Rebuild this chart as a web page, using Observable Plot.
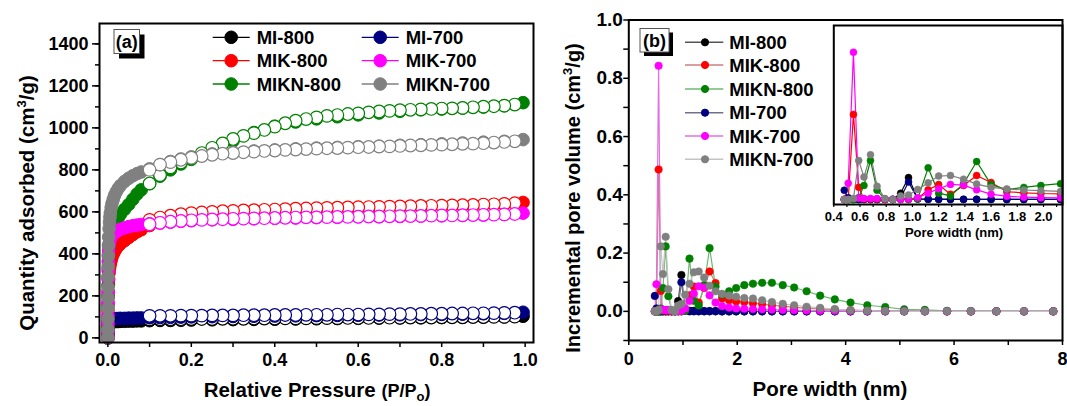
<!DOCTYPE html>
<html>
<head>
<meta charset="utf-8">
<script src="https://cdn.jsdelivr.net/npm/d3@7"></script>
<script src="https://cdn.jsdelivr.net/npm/@observablehq/plot@0.6"></script>
<style>
  body { margin: 0; background: #fff; }
  #fig { position: relative; width: 1067px; height: 406px; overflow: hidden;
         font-family: "Liberation Sans", Arial, sans-serif; font-weight: bold; }
  #fig > svg { position: absolute; }
</style>
</head>
<body>
<div id="fig"></div>
<script>
// ---------- samples ----------
const seriesNames  = ["MI-800", "MIK-800", "MIKN-800", "MI-700", "MIK-700", "MIKN-700"];
const seriesColors = ["#000000", "#ff0000", "#008000", "#000080", "#ff00ff", "#808080"];
// lighter strokes used for the pore-size connecting lines
const psdLineColors = ["#555555", "#c98080", "#6fb86f", "#70708c", "#e070e0", "#c4c4c4"];

// ---------- (a) N2 isotherms ----------
// adsorption branch relative pressures
const adsP = [0.00001, 0.00003, 0.00006, 0.0001, 0.0002, 0.0003, 0.0005, 0.0007, 0.001, 0.0015,
              0.002, 0.003, 0.004, 0.005, 0.006, 0.008, 0.01, 0.013, 0.016, 0.02,
              0.025, 0.03, 0.04, 0.05, 0.06, 0.07, 0.08, 0.1, 0.125, 0.15,
              0.175, 0.2, 0.25, 0.3, 0.35, 0.4, 0.45, 0.5, 0.55, 0.6,
              0.65, 0.7, 0.75, 0.8, 0.85, 0.9, 0.95, 0.995];
// desorption branch relative pressures
const desP = [0.975, 0.95, 0.925, 0.9, 0.875, 0.85, 0.825, 0.8, 0.775, 0.75,
              0.725, 0.7, 0.675, 0.65, 0.625, 0.6, 0.575, 0.55, 0.525, 0.5,
              0.475, 0.45, 0.425, 0.4, 0.375, 0.35, 0.325, 0.3, 0.275, 0.25,
              0.225, 0.2, 0.175, 0.15, 0.125, 0.1];

const adsMI800 = [0, 10, 20, 30, 45, 55, 62, 67, 70, 72,
                  73, 74, 75, 75, 76, 76, 77, 77, 78, 78,
                  78, 79, 79, 80, 80, 81, 81, 82, 83, 83,
                  84, 85, 86, 87, 88, 89, 90, 91, 92, 93,
                  94, 95, 96, 97, 98, 99, 100, 103];
const desMI800 = [101, 100, 100, 99, 99, 98, 98, 98, 97, 97,
                  97, 96, 96, 96, 95, 95, 95, 94, 94, 94,
                  93, 93, 93, 92, 92, 92, 91, 91, 91, 90,
                  90, 90, 89, 89, 89, 88];

const adsMIK800 = [0, 15, 35, 60, 100, 130, 165, 195, 220, 255,
                   280, 310, 330, 345, 355, 370, 385, 400, 412, 425,
                   438, 448, 463, 478, 492, 505, 515, 535, 553, 566,
                   576, 584, 593, 599, 604, 608, 611, 614, 617, 620,
                   622, 624, 626, 628, 630, 633, 636, 645];
const desMIK800 = [641, 638, 636, 635, 633, 632, 631, 630, 629, 628,
                   627, 626, 625, 624, 623, 622, 621, 620, 619, 618,
                   616, 615, 613, 611, 610, 608, 607, 605, 603, 600,
                   597, 594, 589, 582, 573, 562];

const adsMIKN800 = [0, 20, 50, 90, 150, 200, 250, 290, 330, 370,
                    400, 430, 450, 465, 478, 495, 508, 525, 540, 555,
                    572, 588, 612, 635, 660, 685, 705, 735, 770, 800,
                    828, 850, 893, 938, 978, 1008, 1028, 1043, 1053, 1062,
                    1071, 1079, 1086, 1090, 1094, 1099, 1105, 1120];
const desMIKN800 = [1111, 1106, 1103, 1101, 1098, 1095, 1093, 1092, 1090, 1088,
                    1086, 1084, 1081, 1078, 1074, 1069, 1066, 1061, 1057, 1050,
                    1042, 1034, 1022, 1006, 990, 975, 962, 947, 926, 905,
                    880, 856, 835, 812, 775, 735];

const adsMI700 = [0, 15, 30, 45, 60, 70, 76, 80, 83, 85,
                  86, 87, 88, 89, 89, 90, 90, 91, 91, 92,
                  92, 93, 93, 94, 94, 95, 95, 96, 97, 98,
                  99, 100, 101, 102, 103, 104, 105, 106, 107, 108,
                  109, 110, 111, 112, 113, 115, 117, 122];
const desMI700 = [120, 119, 118, 117, 117, 116, 116, 115, 115, 114,
                  114, 113, 113, 112, 112, 111, 111, 111, 110, 110,
                  110, 109, 109, 109, 108, 108, 108, 107, 107, 107,
                  106, 106, 106, 105, 105, 105];

const adsMIK700 = [0, 30, 70, 110, 170, 220, 280, 320, 360, 395,
                   415, 440, 455, 465, 472, 480, 487, 495, 500, 506,
                   512, 517, 524, 530, 534, 537, 540, 543, 547, 551,
                   555, 558, 562, 565, 567, 569, 571, 573, 574, 576,
                   577, 578, 580, 581, 583, 585, 588, 594];
const desMIK700 = [590, 588, 587, 586, 585, 584, 583, 583, 582, 581,
                   580, 580, 579, 578, 578, 577, 576, 576, 575, 574,
                   574, 573, 572, 571, 570, 569, 568, 567, 565, 564,
                   562, 560, 557, 553, 548, 541];

const adsMIKN700 = [0, 40, 90, 140, 190, 240, 290, 340, 390, 440,
                    480, 520, 550, 575, 595, 620, 640, 660, 678, 695,
                    712, 725, 745, 760, 772, 782, 790, 805, 825, 840,
                    852, 862, 876, 884, 890, 895, 900, 904, 907, 910,
                    913, 917, 920, 924, 928, 932, 936, 944];
const desMIKN700 = [936, 933, 930, 927, 925, 924, 922, 920, 919, 917,
                    916, 914, 912, 911, 909, 908, 906, 904, 903, 901,
                    899, 897, 895, 892, 890, 887, 884, 880, 877, 872,
                    866, 858, 848, 837, 825, 800];

const adsorption = [adsMI800, adsMIK800, adsMIKN800, adsMI700, adsMIK700, adsMIKN700];
const desorption = [desMI800, desMIK800, desMIKN800, desMI700, desMIK700, desMIKN700];

// ---------- (b) DFT pore size distribution ----------
const poreWidth = [0.48, 0.51, 0.55, 0.59, 0.63, 0.68, 0.73, 0.79, 0.85, 0.91,
                   0.97, 1.04, 1.12, 1.20, 1.29, 1.39, 1.49, 1.60, 1.72, 1.85,
                   1.98, 2.13, 2.29, 2.46, 2.64, 2.84, 3.05, 3.28, 3.53, 3.80,
                   4.09, 4.40, 4.73, 5.08, 5.46, 5.87, 6.31, 6.78, 7.29, 7.83];

const psdMI800 = [0, 0, 0, 0, 0, 0, 0, 0, 0, 0.035,
                  0.125, 0.004, 0.002, 0.002, 0.001, 0.001, 0.001, 0.001, 0, 0,
                  0, 0, 0, 0, 0, 0, 0, 0, 0, 0,
                  0, 0, 0, 0, 0, 0, 0, 0, 0, 0];
const psdMIK800 = [0, 0, 0.487, 0.07, 0.003, 0.002, 0.002, 0, 0, 0,
                   0, 0.005, 0.055, 0.085, 0.03, 0.08, 0.137, 0.097, 0.044, 0.038,
                   0.034, 0.032, 0.028, 0.025, 0.021, 0.018, 0.014, 0.011, 0.008, 0.006,
                   0.004, 0.003, 0.002, 0.001, 0.001, 0, 0, 0, 0, 0];
const psdMIKN800 = [0, 0, 0, 0.01, 0.08, 0.223, 0.052, 0.002, 0, 0,
                    0, 0.003, 0.181, 0.036, 0.02, 0.09, 0.217, 0.085, 0.057, 0.069,
                    0.08, 0.09, 0.095, 0.098, 0.098, 0.09, 0.082, 0.069, 0.054, 0.041,
                    0.03, 0.021, 0.015, 0.007, 0.005, 0.002, 0.001, 0, 0, 0];
const psdMI700 = [0.053, 0.01, 0, 0, 0, 0, 0, 0, 0, 0.01,
                  0.1, 0.002, 0, 0, 0, 0, 0, 0, 0, 0,
                  0, 0, 0, 0, 0, 0, 0, 0, 0, 0,
                  0, 0, 0, 0, 0, 0, 0, 0, 0, 0];
const psdMIK700 = [0, 0.093, 0.843, 0.007, 0.005, 0.005, 0.005, 0.002, 0.001, 0,
                   0.002, 0.01, 0.036, 0.061, 0.086, 0.082, 0.055, 0.03, 0.018, 0.013,
                   0.01, 0.009, 0.008, 0.007, 0.006, 0.005, 0.004, 0.003, 0.002, 0.002,
                   0.001, 0.001, 0.001, 0.001, 0, 0, 0, 0, 0, 0];
const psdMIKN700 = [0, 0, 0.005, 0.223, 0.128, 0.256, 0.076, 0.005, 0, 0.02,
                    0.025, 0.057, 0.095, 0.134, 0.137, 0.116, 0.088, 0.069, 0.06, 0.054,
                    0.05, 0.046, 0.044, 0.038, 0.032, 0.026, 0.021, 0.016, 0.012, 0.008,
                    0.004, 0.002, 0.001, 0, 0, 0, 0, 0, 0, 0];
const psd = [psdMI800, psdMIK800, psdMIKN800, psdMI700, psdMIK700, psdMIKN700];

// ---------- ticks ----------
const aXTicks = [0, 0.1, 0.2, 0.3, 0.4, 0.5, 0.6, 0.7, 0.8, 0.9, 1.0];
const aXLabels = [0, 0.2, 0.4, 0.6, 0.8, 1.0];
const aYTicks = [0, 100, 200, 300, 400, 500, 600, 700, 800, 900, 1000, 1100, 1200, 1300, 1400];
const aYLabels = [0, 200, 400, 600, 800, 1000, 1200, 1400];
const bXTicks = [0, 1, 2, 3, 4, 5, 6, 7, 8];
const bXLabels = [0, 2, 4, 6, 8];
const bYTicks = [-0.1, 0, 0.1, 0.2, 0.3, 0.4, 0.5, 0.6, 0.7, 0.8, 0.9, 1.0];
const bYLabels = [0, 0.2, 0.4, 0.6, 0.8, 1.0];
const insetXTicks = [0.4, 0.5, 0.6, 0.7, 0.8, 0.9, 1.0, 1.1, 1.2, 1.3, 1.4, 1.5, 1.6, 1.7, 1.8, 1.9, 2.0, 2.1];
const insetXLabels = [0.4, 0.6, 0.8, 1.0, 1.2, 1.4, 1.6, 1.8, 2.0];

// ---------- tables ----------
const drawOrder = [0, 3, 1, 2, 4, 5];
const isoAds = drawOrder.map(k => adsP.map((p, i) => ({p, q: adsorption[k][i], s: k})));
const isoDes = drawOrder.map(k => desP.map((p, i) => ({p, q: desorption[k][i], s: k})));
const psdRows = psd.map((vals, k) => poreWidth.map((w, i) => ({w, v: vals[i], s: k})));

const fig = document.getElementById("fig");
const baseStyle = {fontFamily: "'Liberation Sans', Arial, sans-serif", fontWeight: "bold",
                   background: "transparent", overflow: "visible"};

// ---------- panel (a) ----------
const isoMarks = [];
drawOrder.forEach((k, j) => {
  const c = seriesColors[k];
  isoMarks.push(Plot.line(isoAds[j], {x: "p", y: "q", stroke: c, strokeWidth: 1}));
  isoMarks.push(Plot.dot(isoAds[j], {x: "p", y: "q", r: 6.3, fill: c, stroke: c, strokeWidth: 1}));
  isoMarks.push(Plot.line(isoDes[j], {x: "p", y: "q", stroke: c, strokeWidth: 1}));
  isoMarks.push(Plot.dot(isoDes[j], {x: "p", y: "q", r: 6.3, fill: "white", stroke: c, strokeWidth: 1.2}));
});

const panelA = Plot.plot({
  width: 540, height: 406,
  marginLeft: 99, marginRight: 7, marginTop: 23, marginBottom: 64,
  style: {...baseStyle, fontSize: "18px"},
  x: {domain: [-0.02, 1.02]},
  y: {domain: [-22, 1497]},
  marks: [
    ...isoMarks,
    Plot.axisX({ticks: aXTicks, tickSize: 5, tickPadding: 6, strokeWidth: 1.5, label: null,
                tickFormat: d => aXLabels.includes(d) ? d.toFixed(1) : ""}),
    Plot.axisY({ticks: aYTicks, tickSize: 4, strokeWidth: 1.5, label: null, tickFormat: () => ""}),
    Plot.axisY({ticks: aYLabels, tickSize: 7, tickPadding: 4, strokeWidth: 1.5, label: null,
                tickFormat: d => String(d)}),
    Plot.frame({stroke: "black", strokeWidth: 2})
  ]
});
panelA.style.left = "0px"; panelA.style.top = "0px";
fig.appendChild(panelA);

// ---------- panel (b) ----------
const psdMarks = [];
psdRows.forEach((rows, k) => psdMarks.push(
  Plot.line(rows, {x: "w", y: "v", stroke: psdLineColors[k], strokeWidth: 1.2})));
const psdDotMarks = r => drawOrder.map(k =>
  Plot.dot(psdRows[k], {x: "w", y: "v", r, fill: seriesColors[k], stroke: seriesColors[k], strokeWidth: 0.5}));

const panelB = Plot.plot({
  width: 527, height: 406,
  marginLeft: 88.3, marginRight: 5, marginTop: 19.5, marginBottom: 66,
  style: {...baseStyle, fontSize: "18px"},
  x: {domain: [0, 8]},
  y: {domain: [-0.1, 1.0]},
  marks: [
    ...psdMarks,
    ...psdDotMarks(3.8),
    Plot.axisX({ticks: bXTicks, tickSize: 5, tickPadding: 7, strokeWidth: 1.5, label: null,
                tickFormat: d => bXLabels.includes(d) ? String(d) : ""}),
    Plot.axisY({ticks: bYTicks, tickSize: 5, tickPadding: 1, strokeWidth: 1.5, label: null,
                fontSize: 19, tickFormat: d => bYLabels.includes(d) ? d.toFixed(1) : ""}),
    Plot.frame({stroke: "black", strokeWidth: 2})
  ]
});
panelB.style.left = "540px"; panelB.style.top = "0px";
fig.appendChild(panelB);

// ---------- inset: micropore region ----------
const insetLines = psdRows.map((rows, k) =>
  Plot.line(rows, {x: "w", y: "v", stroke: seriesColors[k], strokeWidth: 1.2, clip: true}));
const insetDots = drawOrder.map(k =>
  Plot.dot(psdRows[k], {x: "w", y: "v", r: 3.5, fill: seriesColors[k], stroke: seriesColors[k],
                        strokeWidth: 0.5, clip: true}));
const inset = Plot.plot({
  width: 241, height: 245,
  marginLeft: 11.3, marginRight: 1, marginTop: 25, marginBottom: 41,
  style: {...baseStyle, fontSize: "13px"},
  x: {domain: [0.4, 2.145]},
  y: {domain: [-0.029, 0.996], axis: null},
  marks: [
    ...insetLines,
    ...insetDots,
    Plot.axisX({ticks: insetXTicks, tickSize: 3, tickPadding: 4, strokeWidth: 1.2, label: null,
                tickFormat: d => insetXLabels.includes(d) ? d.toFixed(1) : ""}),
    Plot.frame({stroke: "black", strokeWidth: 2})
  ]
});
inset.style.left = "822px"; inset.style.top = "0px";
fig.appendChild(inset);

// ---------- titles, legends and panel tags ----------
const NS = "http://www.w3.org/2000/svg";
const over = document.createElementNS(NS, "svg");
over.setAttribute("width", 1067); over.setAttribute("height", 406);
over.style.left = "0px"; over.style.top = "0px";
over.setAttribute("font-family", "'Liberation Sans', Arial, sans-serif");
over.setAttribute("font-weight", "bold");
fig.appendChild(over);

function el(tag, attrs, parent = over) {
  const e = document.createElementNS(NS, tag);
  for (const [k, v] of Object.entries(attrs)) e.setAttribute(k, v);
  parent.appendChild(e);
  return e;
}
function textWithParts(attrs, parts) {
  const t = el("text", attrs);
  for (const p of parts) {
    const s = el("tspan", p.attrs || {}, t);
    s.textContent = p.text;
  }
  return t;
}

// axis titles
textWithParts({transform: "translate(33.5,203) rotate(-90)", "text-anchor": "middle", "font-size": 20.5}, [
  {text: "Quantity adsorbed (cm"},
  {text: "3", attrs: {dy: -8, "font-size": 13}},
  {text: "/g)", attrs: {dy: 8}}
]);
textWithParts({x: 317, y: 397, "text-anchor": "middle", "font-size": 20.5}, [
  {text: "Relative Pressure "},
  {text: "(P/P", attrs: {"font-size": 18}},
  {text: "o", attrs: {"font-size": 13, dy: 3.5}},
  {text: ")", attrs: {"font-size": 18, dy: -3.5}}
]);
textWithParts({transform: "translate(579.5,198) rotate(-90)", "text-anchor": "middle", "font-size": 20}, [
  {text: "Incremental pore volume (cm"},
  {text: "3", attrs: {dy: -8, "font-size": 13}},
  {text: "/g)", attrs: {dy: 8}}
]);
textWithParts({x: 830, y: 396, "text-anchor": "middle", "font-size": 20.5}, [{text: "Pore width (nm)"}]);
textWithParts({x: 954, y: 237, "text-anchor": "middle", "font-size": 13}, [{text: "Pore width (nm)"}]);

// panel tags with drop shadow
function tag(x, y, w, h, off, label) {
  el("rect", {x: x + off, y: y + off, width: w, height: h, fill: "#000"});
  el("rect", {x, y, width: w, height: h, fill: "#fff", stroke: "#555", "stroke-width": 1});
  textWithParts({x: x + w / 2, y: y + h / 2 + 6.5, "text-anchor": "middle", "font-size": 18}, [{text: label}]);
}
tag(114, 29.5, 25.5, 24, 5, "(a)");
tag(640, 28.5, 29, 23.5, 4, "(b)");

// legend (a): two columns of three
const legA = {cols: [[0, 1, 2], [3, 4, 5]], x0: [212.7, 361.7], len: 37, rows: [37.3, 60.7, 84]};
legA.cols.forEach((col, ci) => col.forEach((k, ri) => {
  const x0 = legA.x0[ci], y = legA.rows[ri];
  el("line", {x1: x0, x2: x0 + legA.len, y1: y, y2: y, stroke: seriesColors[k], "stroke-width": 1.3});
  el("circle", {cx: x0 + legA.len / 2, cy: y, r: 6.3, fill: seriesColors[k], stroke: seriesColors[k]});
  textWithParts({x: x0 + legA.len + 7, y: y + 6.6, "font-size": 18.5}, [{text: seriesNames[k]}]);
}));

// legend (b): single column
const legB = {x0: 685, len: 38.3, rows: [42.3, 65, 89, 112.7, 136, 159.3]};
seriesNames.forEach((name, k) => {
  const y = legB.rows[k];
  el("line", {x1: legB.x0, x2: legB.x0 + legB.len, y1: y, y2: y, stroke: psdLineColors[k], "stroke-width": 1.6});
  el("circle", {cx: legB.x0 + 20, cy: y, r: 3.6, fill: seriesColors[k], stroke: seriesColors[k]});
  textWithParts({x: legB.x0 + legB.len + 6, y: y + 6.6, "font-size": 18.5}, [{text: name}]);
});
</script>
</body>
</html>
